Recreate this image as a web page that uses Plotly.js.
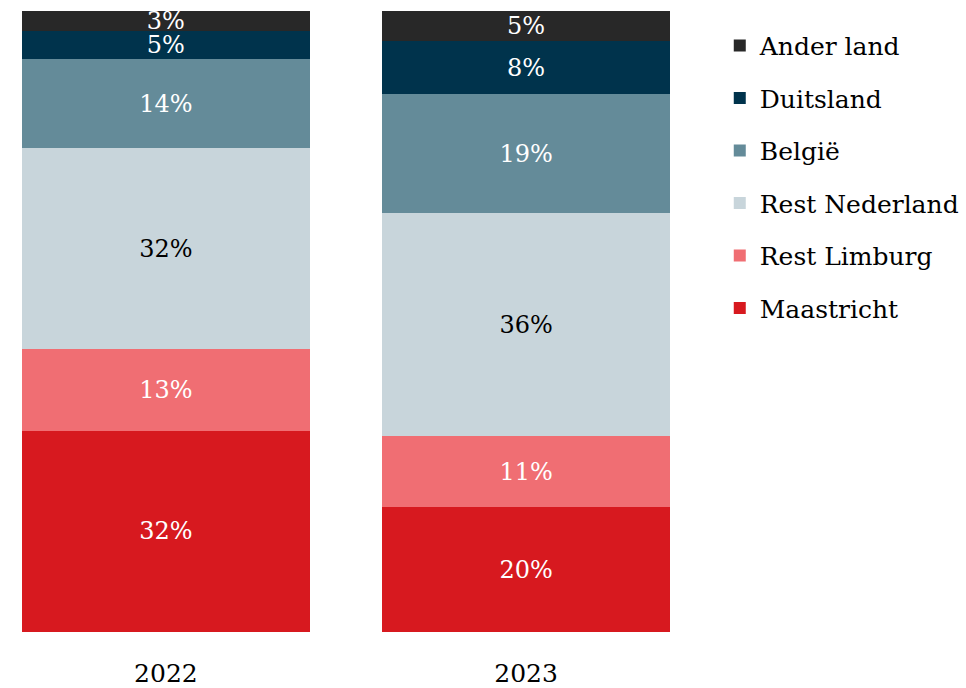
<!DOCTYPE html>
<html>
<head>
<meta charset="utf-8">
<script src="https://cdn.plot.ly/plotly-3.0.1.min.js"></script>
<style>html,body{margin:0;padding:0;background:#fff;}#chart{width:966px;height:688px;}</style>
</head>
<body>
<div id="chart"></div>
<script>
const years = ["2022", "2023"];
const seriesNames = ["Maastricht", "Rest Limburg", "Rest Nederland", "België", "Duitsland", "Ander land"];
const maastricht = [32.4, 20.1];
const restLimburg = [13.1, 11.4];
const restNederland = [32.4, 35.9];
const belgie = [14.3, 19.3];
const duitsland = [4.6, 8.4];
const anderLand = [3.2, 4.9];
const colors = ["#d7191f", "#f06e73", "#c8d5db", "#648b99", "#00334c", "#282828"];
const textColors = ["#ffffff", "#ffffff", "#000000", "#ffffff", "#ffffff", "#ffffff"];

const values = [maastricht, restLimburg, restNederland, belgie, duitsland, anderLand];
const FONT = "'DejaVu Serif', 'Liberation Serif', serif";

const traces = seriesNames.map((name, i) => ({
  type: "bar",
  name: name,
  x: years,
  y: values[i],
  legendgroup: "g" + i,
  legendrank: 1000 - i,
  marker: {color: colors[i], line: {width: 0}},
  texttemplate: "%{y:.0f}%",
  textposition: "inside",
  insidetextanchor: "middle",
  textangle: 0,
  constraintext: "none",
  insidetextfont: {family: FONT, size: 24, color: textColors[i]},
  hoverinfo: "none"
}));

const layout = {
  width: 966,
  height: 688,
  barmode: "stack",
  bargap: 0.201,
  margin: {l: 22, r: 296, t: 11, b: 56, autoexpand: false},
  paper_bgcolor: "#ffffff",
  plot_bgcolor: "#ffffff",
  font: {family: FONT, size: 25, color: "#000000"},
  showlegend: true,
  legend: {
    traceorder: "grouped",
    tracegroupgap: 17,
    x: 1.0768,
    xanchor: "left",
    y: 0.981,
    yanchor: "top",
    font: {family: FONT, size: 25, color: "#000000"},
    itemwidth: 30,
    bgcolor: "rgba(0,0,0,0)"
  },
  xaxis: {
    type: "category",
    range: [-0.3994, 1.3994],
    showgrid: false,
    zeroline: false,
    showline: false,
    ticks: "",
    ticklabelstandoff: 24,
    tickfont: {family: FONT, size: 25, color: "#000000"}
  },
  yaxis: {
    range: [0, 100],
    visible: false,
    showgrid: false,
    zeroline: false
  }
};

Plotly.newPlot("chart", traces, layout, {staticPlot: true, displayModeBar: false});
</script>
</body>
</html>
